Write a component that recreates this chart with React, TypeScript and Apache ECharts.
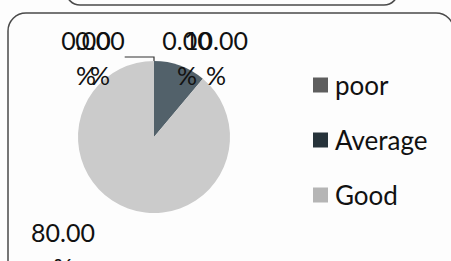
import React, { useEffect, useRef } from "react";
import * as echarts from "echarts";

const categories = ["poor", "Average", "Good", " ", "  "];
const values = [0, 10, 80, 0, 0];
const legendNames = ["poor", "Average", "Good"];

const sliceColors = ["#5a5a5a", "#52616a", "#cbcbcb", "#cbcbcb", "#cbcbcb"];
const legendColors = ["#5e5e5e", "#26333a", "#b5b5b5"];
// label anchor positions (centre of each two-line label block)
const labelAnchors: [number, number][] = [
  [187, 57],
  [216, 57],
  [63, 249],
  [86, 57],
  [100, 57],
];
const showLeader = [false, false, false, false, true];

export default function App() {
  const ref = useRef<HTMLDivElement>(null);
  useEffect(() => {
    if (!ref.current) return;
    const chart = echarts.init(ref.current, undefined, { renderer: "svg" });
    const font = "Lato, 'Open Sans', sans-serif";
    chart.setOption({
      animation: false,
      backgroundColor: "#fdfdfd",
      legend: {
        orient: "vertical",
        left: 308,
        top: 67,
        itemWidth: 15,
        itemHeight: 15,
        itemGap: 29,
        icon: "rect",
        data: legendNames.map((n, i) => ({ name: n, itemStyle: { color: legendColors[i] } })),
        textStyle: { fontSize: 26, fontFamily: font, color: "#111", padding: [0, 0, 0, 2] },
      },
      graphic: [
        {
          type: "rect",
          shape: { x: 8, y: 13, width: 446, height: 280, r: 18 },
          style: { fill: "none", stroke: "#4a4a4a", lineWidth: 1.5 },
        },
        {
          type: "rect",
          shape: { x: 66, y: -40, width: 332, height: 45, r: 14 },
          style: { fill: "none", stroke: "#4a4a4a", lineWidth: 1.5 },
        },
      ],
      series: [
        {
          type: "pie",
          center: [154, 137],
          radius: 76,
          startAngle: 90,
          clockwise: true,
          avoidLabelOverlap: false,
          minShowLabelAngle: 0,
          stillShowZeroSum: true,
          label: {
            show: true,
            position: "outside",
            formatter: (p: any) => p.value.toFixed(2) + "\n%",
            fontSize: 25,
            lineHeight: 35,
            fontFamily: font,
            color: "#111",
            align: "center",
          },
          labelLine: { show: false, lineStyle: { color: "#333", width: 1.2 } },
          labelLayout: (params: any) => {
            const a = labelAnchors[params.dataIndex];
            return { x: a[0], y: a[1], align: "center", verticalAlign: "middle" };
          },
          data: categories.map((n, i) => ({
            name: n,
            value: values[i],
            itemStyle: { color: sliceColors[i] },
            labelLine: { show: showLeader[i] },
          })),
        },
      ],
    });
    return () => chart.dispose();
  }, []);
  return <div ref={ref} style={{ width: 451, height: 261, position: "absolute", left: 0, top: 0 }} />;
}
